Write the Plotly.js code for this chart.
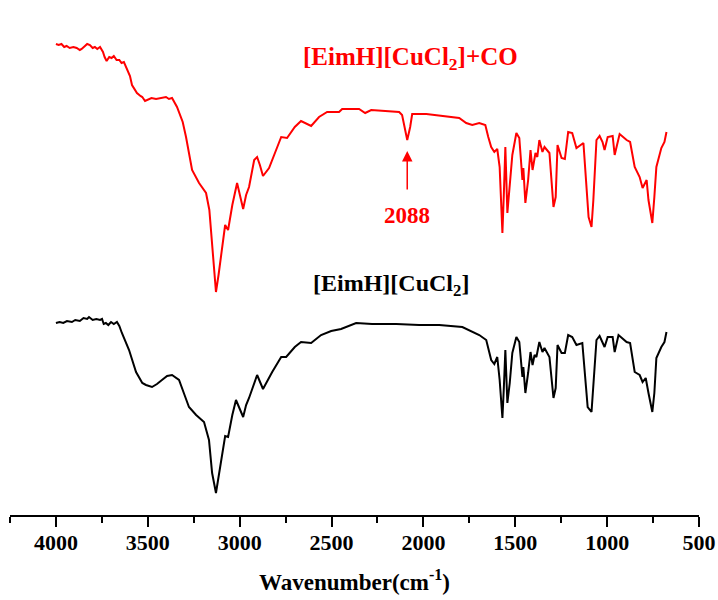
<!DOCTYPE html>
<html>
<head>
<meta charset="utf-8">
<script src="https://cdn.plot.ly/plotly-3.0.1.min.js"></script>
<style>html,body{margin:0;padding:0;background:#fff;}#chart{width:718px;height:600px;}</style>
</head>
<body>
<div id="chart"></div>
<script>
// Wavenumbers (cm^-1) and relative transmittance (arbitrary units, offset traces)
const wnCO = [4000,3985,3970,3955,3942,3925,3905,3887,3870,3860,3842,3830,3815,3800,3788,3775,3760,3744,3735,3724,3710,3697,3685,3670,3655,3643,3630,3615,3605,3597,3586,3559,3540,3530,3515,3504,3480,3455,3430,3401,3385,3368,3341,3310,3292,3259,3221,3183,3165,3156,3140,3129,3115,3101,3079,3063,3040,3014,2981,2965,2949,2921,2905,2890,2873,2840,2800,2774,2742,2700,2666,2611,2568,2524,2459,2442,2350,2317,2284,2203,2132,2116,2100,2088,2072,2061,1984,1875,1805,1767,1734,1696,1663,1647,1631,1614,1598,1585,1570,1562,1554,1543,1530,1516,1494,1478,1461,1456,1445,1430,1417,1406,1390,1380,1369,1352,1341,1314,1292,1280,1270,1248,1230,1212,1190,1167,1129,1115,1101,1085,1075,1058,1041,1025,1014,997,970,959,932,894,875,850,823,807,785,775,754,743,732,705,688,677];
const tCO = [471,470,471,468,469,467,468,467,465,466,469,471,470,467,468,466,468,463,458,454,458,457,459,455,455,452,453,447,443,439,430,422,419,418,414,415,417,416,417,418,416,417,408,393,378,345,332,322,305,285,245,223,240,258,290,285,310,332,306,320,328,355,358,350,339,347,365,378,377,388,394,389,398,403,403,406,406,402,405,404,403,400,387,375,388,401,401,399,397,392,390,392,390,378,368,363,366,348,282,322,368,302,332,360,382,377,335,347,312,335,365,345,362,358,375,363,368,362,308,318,370,357,356,383,382,367,372,338,298,288,315,375,379,373,365,378,379,360,381,375,373,348,338,327,335,315,292,318,348,367,373,383];

const wnBase = [4000,3980,3960,3940,3913,3895,3870,3850,3830,3820,3800,3780,3760,3749,3740,3728,3715,3700,3685,3668,3655,3641,3602,3564,3530,3510,3477,3450,3423,3395,3368,3330,3300,3276,3237,3194,3167,3150,3129,3115,3101,3079,3063,3040,3020,2981,2965,2949,2905,2873,2823,2774,2747,2700,2666,2611,2557,2502,2448,2366,2279,2148,2023,1914,1788,1734,1696,1658,1631,1614,1598,1585,1570,1562,1554,1543,1530,1516,1494,1478,1461,1456,1445,1430,1417,1406,1395,1385,1369,1352,1341,1314,1292,1280,1270,1248,1230,1212,1190,1167,1135,1115,1106,1085,1075,1058,1041,1025,1014,997,970,959,938,894,875,850,823,807,790,775,754,743,732,705,688,677];
const tBase = [192,193,192,194,193,195,194,197,196,198,195,196,195,196,191,192,190,193,191,193,189,182,165,143,132,130,128,131,135,139,140,135,120,108,100,93,75,42,22,37,52,79,78,100,115,98,110,117,140,126,143,158,158,168,173,172,180,184,186,192,191,191,190,190,188,183,180,175,155,151,158,135,97,128,165,112,132,162,178,173,138,148,122,142,163,150,160,158,173,163,167,158,117,127,170,162,162,180,178,170,172,128,108,103,128,175,179,173,168,178,178,163,180,173,172,143,140,133,137,122,103,122,157,168,173,183];

const xTicks = [4000,3500,3000,2500,2000,1500,1000,500];
const labelCO = "[EimH][CuCl<sub>2</sub>]+CO";
const labelBase = "[EimH][CuCl<sub>2</sub>]";
const peakCO = 2088;

const serif = "Liberation Serif, Times New Roman, serif";

const traces = [
  {x: wnCO, y: tCO, type: 'scatter', mode: 'lines', line: {color: '#ff0000', width: 2}, hoverinfo: 'skip'},
  {x: wnBase, y: tBase, type: 'scatter', mode: 'lines', line: {color: '#000000', width: 2}, hoverinfo: 'skip'}
];

const layout = {
  width: 718, height: 600,
  margin: {l: 10, r: 19, t: 30, b: 85},
  paper_bgcolor: '#fff', plot_bgcolor: '#fff',
  showlegend: false,
  xaxis: {
    range: [4250, 500], autorange: false,
    tickvals: xTicks, ticktext: xTicks.map(String),
    ticks: 'outside', ticklen: 10, tickwidth: 2, tickcolor: '#000',
    ticklabelstandoff: -3,
    minor: {dtick: 250, tick0: 0, ticks: 'outside', ticklen: 6, tickwidth: 2, tickcolor: '#000', showgrid: false},
    showline: true, linewidth: 2, linecolor: '#000',
    showgrid: false, zeroline: false,
    tickfont: {family: serif, size: 22, color: '#000', weight: 'bold'},
    title: {text: 'Wavenumber(cm<sup>-1</sup>)', font: {family: serif, size: 23, color: '#000', weight: 'bold'}, standoff: 19}
  },
  yaxis: {visible: false, range: [0, 485], autorange: false, showgrid: false, zeroline: false},
  annotations: [
    {x: 2069, y: 457, xref: 'x', yref: 'y', text: labelCO, showarrow: false,
     font: {family: serif, size: 25, color: '#ff0000', weight: 'bold'}},
    {x: 2177, y: 230, xref: 'x', yref: 'y', text: labelBase, showarrow: false,
     font: {family: serif, size: 24, color: '#000', weight: 'bold'}},
    {x: peakCO, y: 364, xref: 'x', yref: 'y', text: '', showarrow: true, ax: 0, ay: 40,
     arrowcolor: '#ff0000', arrowwidth: 1.5, arrowhead: 2, arrowsize: 1.4, standoff: 0},
    {x: peakCO, y: 300, xref: 'x', yref: 'y', text: String(peakCO), showarrow: false,
     font: {family: serif, size: 23, color: '#ff0000', weight: 'bold'}}
  ]
};

Plotly.newPlot('chart', traces, layout, {displayModeBar: false, staticPlot: true});
</script>
</body>
</html>
